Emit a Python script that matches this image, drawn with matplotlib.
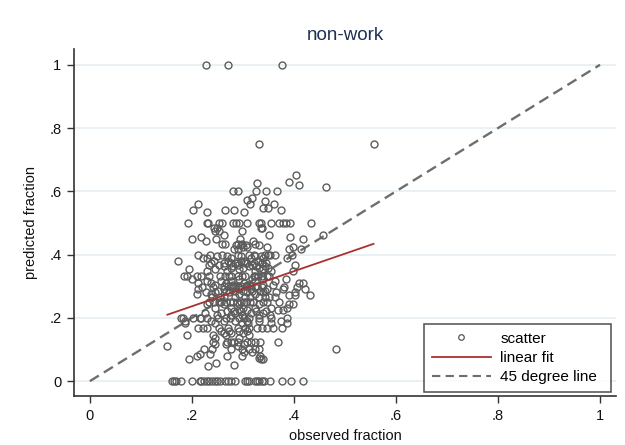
import matplotlib
matplotlib.use("Agg")
import matplotlib.pyplot as plt
from matplotlib.lines import Line2D

plt.rcParams['font.family'] = ['Liberation Sans', 'DejaVu Sans']

title = "non-work"
x_label = "observed fraction"
y_label = "predicted fraction"
x_ticks = [0, 0.2, 0.4, 0.6, 0.8, 1.0]
x_tick_labels = ["0", ".2", ".4", ".6", ".8", "1"]
y_ticks = [0, 0.2, 0.4, 0.6, 0.8, 1.0]
y_tick_labels = ["0", ".2", ".4", ".6", ".8", "1"]
legend_labels = ["scatter", "linear fit", "45 degree line"]

# scatter points grouped by predicted fraction: (predicted, [observed, ...])
rows = [
    (1.0, [0.228, 0.270, 0.376]),
    (0.75, [0.331, 0.556]),
    (0.652, [0.405]),
    (0.631, [0.390]),
    (0.625, [0.327]),
    (0.619, [0.409]),
    (0.614, [0.462]),
    (0.6, [0.280, 0.290, 0.325, 0.346, 0.366]),
    (0.580, [0.317]),
    (0.572, [0.308]),
    (0.570, [0.343]),
    (0.559, [0.213, 0.314, 0.360]),
    (0.546, [0.339, 0.350]),
    (0.541, [0.203, 0.264, 0.283, 0.375]),
    (0.536, [0.230, 0.303]),
    (0.5, [0.193, 0.229, 0.232, 0.253, 0.259, 0.281, 0.287, 0.293, 0.309,
           0.332, 0.336, 0.355, 0.371, 0.379, 0.385, 0.392, 0.434]),
    (0.484, [0.243, 0.250, 0.336, 0.338]),
    (0.474, [0.246, 0.253, 0.298]),
    (0.463, [0.262, 0.352, 0.457]),
    (0.456, [0.218, 0.392]),
    (0.450, [0.201, 0.247, 0.294, 0.418]),
    (0.443, [0.228, 0.319]),
    (0.432, [0.259, 0.264, 0.290, 0.298, 0.324]),
    (0.429, [0.287, 0.296, 0.306, 0.331]),
    (0.424, [0.301, 0.309, 0.348, 0.399]),
    (0.418, [0.283, 0.291, 0.390, 0.413]),
    (0.4, [0.213, 0.235, 0.260, 0.290, 0.312, 0.322, 0.344, 0.350, 0.354, 0.362, 0.397]),
    (0.395, [0.250, 0.269, 0.297, 0.324, 0.336]),
    (0.390, [0.222, 0.230, 0.277, 0.316, 0.340, 0.387]),
    (0.381, [0.172, 0.244, 0.270, 0.296, 0.302, 0.329]),
    (0.375, [0.276, 0.288, 0.305, 0.322, 0.338]),
    (0.374, [0.238, 0.262, 0.285, 0.309, 0.337, 0.346]),
    (0.367, [0.233, 0.254, 0.291, 0.318, 0.403]),
    (0.364, [0.262, 0.281, 0.312, 0.326, 0.343]),
    (0.358, [0.277, 0.301, 0.332, 0.349]),
    (0.353, [0.195, 0.246, 0.293, 0.340]),
    (0.348, [0.230, 0.269, 0.324, 0.355, 0.399]),
    (0.333, [0.184, 0.190, 0.210, 0.218, 0.234, 0.256, 0.265, 0.272, 0.277,
             0.290, 0.299, 0.304, 0.321, 0.324, 0.330, 0.337, 0.348, 0.352]),
    (0.324, [0.201, 0.293, 0.318, 0.340, 0.385]),
    (0.316, [0.230, 0.258, 0.277, 0.324, 0.363]),
    (0.309, [0.213, 0.238, 0.267, 0.302, 0.409, 0.417]),
    (0.303, [0.246, 0.281, 0.309, 0.340, 0.359]),
    (0.3, [0.262, 0.270, 0.279, 0.287, 0.296, 0.306, 0.315, 0.328]),
    (0.298, [0.220, 0.242, 0.277, 0.293, 0.324, 0.337, 0.381, 0.406]),
    (0.290, [0.213, 0.262, 0.293, 0.316, 0.348, 0.379, 0.422]),
    (0.286, [0.252, 0.266, 0.284, 0.300, 0.318, 0.334, 0.344]),
    (0.283, [0.228, 0.246, 0.272, 0.309, 0.340, 0.365, 0.402]),
    (0.274, [0.211, 0.238, 0.293, 0.324]),
    (0.271, [0.390, 0.402, 0.432]),
    (0.267, [0.240, 0.256, 0.304, 0.314, 0.344, 0.352]),
    (0.266, [0.262, 0.285, 0.332, 0.363]),
    (0.25, [0.234, 0.244, 0.254, 0.258, 0.267, 0.275, 0.281, 0.289, 0.296,
            0.302, 0.307, 0.313, 0.319, 0.340, 0.348, 0.371]),
    (0.243, [0.229, 0.262, 0.293, 0.332, 0.391, 0.399]),
    (0.232, [0.246, 0.277, 0.301, 0.324, 0.355, 0.387]),
    (0.225, [0.293, 0.309, 0.369, 0.379]),
    (0.222, [0.268, 0.282, 0.296, 0.326, 0.345]),
    (0.216, [0.226, 0.258, 0.285, 0.316, 0.340]),
    (0.210, [0.250, 0.276, 0.298, 0.332, 0.353]),
    (0.2, [0.179, 0.183, 0.202, 0.215, 0.218, 0.230, 0.251, 0.266, 0.274,
           0.293, 0.302, 0.312, 0.332, 0.355, 0.387]),
    (0.190, [0.186, 0.238, 0.262, 0.285, 0.309, 0.332, 0.375]),
    (0.183, [0.186, 0.246, 0.298, 0.310, 0.355, 0.387]),
    (0.167, [0.212, 0.222, 0.230, 0.254, 0.271, 0.290, 0.305, 0.312, 0.327,
             0.337, 0.348, 0.359, 0.376]),
    (0.159, [0.257, 0.273, 0.293, 0.309]),
    (0.153, [0.262, 0.277, 0.301]),
    (0.146, [0.190, 0.242, 0.266, 0.312]),
    (0.138, [0.246, 0.293]),
    (0.125, [0.242, 0.269, 0.276, 0.283, 0.290, 0.309, 0.316, 0.324, 0.333, 0.369]),
    (0.117, [0.246, 0.266, 0.303]),
    (0.111, [0.152, 0.290]),
    (0.103, [0.224, 0.240, 0.276, 0.299, 0.312, 0.324, 0.332, 0.482]),
    (0.092, [0.303, 0.318]),
    (0.085, [0.216, 0.236]),
    (0.079, [0.210, 0.269, 0.298, 0.334]),
    (0.074, [0.331]),
    (0.069, [0.195, 0.336, 0.340]),
    (0.056, [0.247]),
    (0.051, [0.283]),
    (0.048, [0.231]),
    (0.0, [0.161, 0.165, 0.168, 0.179, 0.200, 0.215, 0.218, 0.224, 0.229,
           0.234, 0.240, 0.246, 0.250, 0.256, 0.264, 0.270, 0.276, 0.285,
           0.304, 0.308, 0.312, 0.324, 0.328, 0.332, 0.337, 0.342, 0.353,
           0.377, 0.395, 0.418]),
]

fit_x = [0.152, 0.556]
fit_y = [0.210, 0.434]
diag_x = [0.0, 1.0]
diag_y = [0.0, 1.0]

observed = [x for y, xs in rows for x in xs]
predicted = [y for y, xs in rows for x in xs]

fig = plt.figure(figsize=(6.25, 4.45), dpi=100)
ax = fig.add_axes([0.1184, 0.110, 0.867, 0.780])

ax.set_xlim(-0.031, 1.031)
ax.set_ylim(-0.047, 1.05)

for yt in y_ticks:
    ax.axhline(yt, color='#e8f0f3', lw=1.3, zorder=0)

ax.plot(observed, predicted, linestyle='none', marker='o', markersize=5.0,
        markerfacecolor='none', markeredgecolor='#5c5c5c', markeredgewidth=1.0,
        zorder=3)
ax.plot(fit_x, fit_y, color='#a8322d', lw=1.3, zorder=4)
ax.plot(diag_x, diag_y, color='#6e6e6e', lw=1.7, linestyle=(0, (4.5, 2.5)), zorder=2)

ax.set_xticks(x_ticks)
ax.set_xticklabels(x_tick_labels)
ax.set_yticks(y_ticks)
ax.set_yticklabels(y_tick_labels)
ax.tick_params(axis='both', direction='out', length=5, width=1, color='#333333',
               labelsize=10.5, labelcolor='#111111', pad=4)

for s in ['top', 'right']:
    ax.spines[s].set_visible(False)
for s in ['left', 'bottom']:
    ax.spines[s].set_color('#333333')
    ax.spines[s].set_linewidth(1.2)

ax.set_xlabel(x_label, fontsize=10.5, color='#111111', labelpad=5)
ax.set_ylabel(y_label, fontsize=10.5, color='#111111', labelpad=8)
fig.text(0.553, 0.921, title, fontsize=13.5, color='#1f2f55', ha='center', va='center')

handles = [
    Line2D([], [], linestyle='none', marker='o', markersize=4.0,
           markerfacecolor='none', markeredgecolor='#555555', markeredgewidth=0.9),
    Line2D([], [], color='#a8322d', lw=1.3),
    Line2D([], [], color='#6e6e6e', lw=1.5, linestyle=(0, (4.0, 2.5))),
]
leg = ax.legend(handles, legend_labels, loc='lower left',
                bbox_to_anchor=(0.646, 0.012, 0.345, 0.216), mode='expand',
                fontsize=11, frameon=True, fancybox=False, handlelength=3.9,
                borderaxespad=0, labelspacing=0.35, handletextpad=0.6,
                borderpad=0.5)
leg.get_frame().set_edgecolor('#222222')
leg.get_frame().set_linewidth(1.1)

fig.savefig('out.png', dpi=100, facecolor='white')
